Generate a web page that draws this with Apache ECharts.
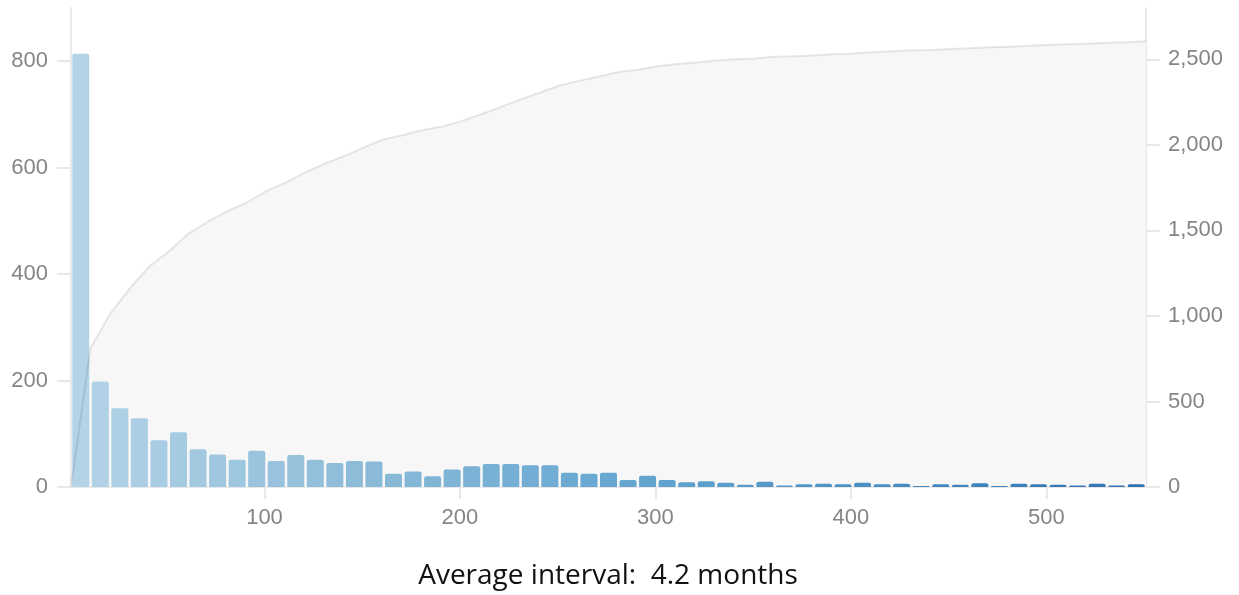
<!DOCTYPE html>
<html>
<head>
<meta charset="utf-8">
<style>
  html, body { margin: 0; padding: 0; background: #fff; }
  #chart { width: 1239px; height: 595px; }
</style>
<script src="https://cdn.jsdelivr.net/npm/echarts@6/dist/echarts.min.js"></script>
</head>
<body>
<div id="chart"></div>
<script>
// histogram of intervals (days), bins of 10 starting at day 1
var binStart = 1;
var binWidth = 10;
var counts = [814, 198, 148, 129, 88, 103, 71, 61, 51, 68,
              49, 60, 51, 45, 49, 48, 25, 29, 20, 33,
              39, 43, 43, 41, 41, 27, 25, 27, 13, 21,
              13, 9, 11, 8, 4, 10, 3, 5, 6, 5,
              8, 5, 6, 2, 5, 4, 7, 2, 6, 5,
              4, 3, 6, 3, 5];
var xTicks = [100, 200, 300, 400, 500];
var leftTicks = [0, 200, 400, 600, 800];
var rightTicks = [0, 500, 1000, 1500, 2000, 2500];
var caption = 'Average interval:  4.2 months';

var barData = [];
var cumData = [[binStart, 0]];
var total = 0;
counts.forEach(function (c, i) {
  var lo = binStart + i * binWidth;
  barData.push([lo + binWidth / 2, c]);
  total += c;
  cumData.push([lo + binWidth, total]);
});

var axisGray = '#e8e8e8';
var labelStyle = { color: '#858585', fontSize: 22, fontFamily: 'Liberation Sans, Arial, sans-serif' };

var chart = echarts.init(document.getElementById('chart'));
chart.setOption({
  animation: false,
  grid: { left: 71, right: 93, top: 8, bottom: 108 },
  graphic: [{
    type: 'text',
    x: 608,
    y: 576,
    z: 10,
    style: {
      text: caption,
      fill: '#111',
      fontSize: 28,
      fontFamily: 'Open Sans, Noto Sans, sans-serif',
      textAlign: 'center',
      textVerticalAlign: 'middle'
    }
  }],
  visualMap: {
    show: false,
    type: 'continuous',
    seriesIndex: 1,
    dimension: 0,
    min: binStart,
    max: binStart + counts.length * binWidth,
    inRange: { color: ['#b4d4e8', '#8fbdd9', '#67a7d1', '#4a8fc3', '#2f72b1'] }
  },
  xAxis: {
    type: 'value',
    min: binStart,
    max: binStart + counts.length * binWidth,
    axisLine: { show: true, lineStyle: { color: axisGray, width: 2 } },
    axisTick: { show: true, length: 12, customValues: xTicks, lineStyle: { color: axisGray, width: 2 } },
    axisLabel: Object.assign({ margin: 20, customValues: xTicks }, labelStyle),
    splitLine: { show: false }
  },
  yAxis: [{
    type: 'value',
    min: 0,
    max: 900,
    axisLine: { show: true, lineStyle: { color: axisGray, width: 2 } },
    axisTick: { show: true, length: 14, customValues: leftTicks, lineStyle: { color: axisGray, width: 2 } },
    axisLabel: Object.assign({ margin: 23, customValues: leftTicks }, labelStyle),
    splitLine: { show: false }
  }, {
    type: 'value',
    min: 0,
    max: 2800,
    position: 'right',
    axisLine: { show: true, lineStyle: { color: axisGray, width: 2 } },
    axisTick: { show: true, length: 14, customValues: rightTicks, lineStyle: { color: axisGray, width: 2 } },
    axisLabel: Object.assign({
      margin: 22,
      customValues: rightTicks,
      formatter: function (v) { return v.toLocaleString('en-US'); }
    }, labelStyle),
    splitLine: { show: false }
  }],
  series: [{
    name: 'cumulative area',
    type: 'line',
    yAxisIndex: 1,
    data: cumData,
    showSymbol: false,
    z: 1,
    lineStyle: { opacity: 0, width: 0 },
    areaStyle: { color: '#f7f7f7', opacity: 1 }
  }, {
    name: 'count',
    type: 'bar',
    data: barData,
    barWidth: 17,
    barMinHeight: 1,
    z: 2,
    itemStyle: {
      borderRadius: [2, 2, 0, 0]
    }
  }, {
    name: 'cumulative',
    type: 'line',
    yAxisIndex: 1,
    data: cumData,
    showSymbol: false,
    z: 3,
    lineStyle: { color: 'rgba(0,0,0,0.09)', width: 2 }
  }]
});
</script>
</body>
</html>
